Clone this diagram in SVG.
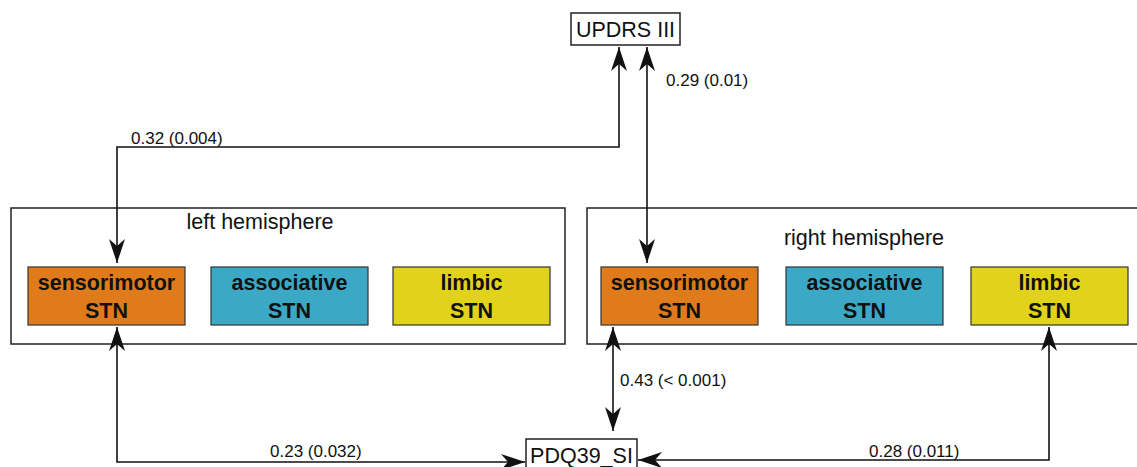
<svg xmlns="http://www.w3.org/2000/svg" width="1137" height="467" viewBox="0 0 1137 467">
<style>
.box{fill:#fff;stroke:#222;stroke-width:1.5}
.hemi{fill:none;stroke:#222;stroke-width:1.5}
.node{stroke:#333;stroke-width:1.2}
.orange{fill:#E07B1C}
.blue{fill:#3BA9C6}
.yellow{fill:#E1D31A}
.nt{font-family:"Liberation Sans",Arial,sans-serif;font-weight:bold;font-size:21.5px;fill:#111;text-anchor:middle}
.t{font-family:"Liberation Sans",Arial,sans-serif;fill:#111;font-size:21.5px;text-anchor:middle}
.lbl{font-family:"Liberation Sans",Arial,sans-serif;font-size:17px;fill:#111}
.c{fill:none;stroke:#111;stroke-width:1.6}
</style>
<defs>
<marker id="ah" markerUnits="userSpaceOnUse" markerWidth="28" markerHeight="20" viewBox="-26 -10 28 20" refX="0" refY="0" orient="auto-start-reverse">
<path d="M0,0 L-24,-8 L-17,0 L-24,8 Z" fill="#111"/>
</marker>
</defs>

<g id="hemi-left">
<rect class="hemi" x="11" y="208" width="554" height="136"/>
<text class="t" x="260" y="229">left hemisphere</text>
</g>
<g id="hemi-right">
<rect class="hemi" x="587" y="208" width="560" height="136"/>
<text class="t" x="864" y="245">right hemisphere</text>
</g>

<g id="updrs">
<rect class="box" x="571" y="13" width="109" height="32"/>
<text class="t" x="625.5" y="37">UPDRS III</text>
</g>
<g id="pdq">
<rect class="box" x="526" y="439" width="111" height="34"/>
<text class="t" x="581.5" y="463">PDQ39_SI</text>
</g>

<g id="l-sensorimotor">
<rect class="node orange" x="28" y="267" width="157" height="58"/>
<text class="nt" x="106.5" y="290">sensorimotor</text>
<text class="nt" x="106.5" y="318">STN</text>
</g>
<g id="l-associative">
<rect class="node blue" x="211" y="267" width="157" height="58"/>
<text class="nt" x="289.5" y="290">associative</text>
<text class="nt" x="289.5" y="318">STN</text>
</g>
<g id="l-limbic">
<rect class="node yellow" x="393" y="267" width="157" height="58"/>
<text class="nt" x="471.5" y="290">limbic</text>
<text class="nt" x="471.5" y="318">STN</text>
</g>
<g id="r-sensorimotor">
<rect class="node orange" x="601" y="267" width="157" height="58"/>
<text class="nt" x="679.5" y="290">sensorimotor</text>
<text class="nt" x="679.5" y="318">STN</text>
</g>
<g id="r-associative">
<rect class="node blue" x="786" y="267" width="157" height="58"/>
<text class="nt" x="864.5" y="290">associative</text>
<text class="nt" x="864.5" y="318">STN</text>
</g>
<g id="r-limbic">
<rect class="node yellow" x="971" y="267" width="157" height="58"/>
<text class="nt" x="1049.5" y="290">limbic</text>
<text class="nt" x="1049.5" y="318">STN</text>
</g>

<g id="connectors">
<path class="c" d="M619,47 V147 H117 V263" marker-start="url(#ah)" marker-end="url(#ah)"/>
<path class="c" d="M647,47 V263" marker-start="url(#ah)" marker-end="url(#ah)"/>
<path class="c" d="M117,327 V462 H525" marker-start="url(#ah)" marker-end="url(#ah)"/>
<path class="c" d="M613,327 V431" marker-start="url(#ah)" marker-end="url(#ah)"/>
<path class="c" d="M1049,327 V460 H638" marker-start="url(#ah)" marker-end="url(#ah)"/>
<text class="lbl" x="131" y="144">0.32 (0.004)</text>
<text class="lbl" x="666" y="86">0.29 (0.01)</text>
<text class="lbl" x="620" y="386">0.43 (&lt; 0.001)</text>
<text class="lbl" x="270" y="457">0.23 (0.032)</text>
<text class="lbl" x="869" y="457">0.28 (0.011)</text>
</g>
</svg>
